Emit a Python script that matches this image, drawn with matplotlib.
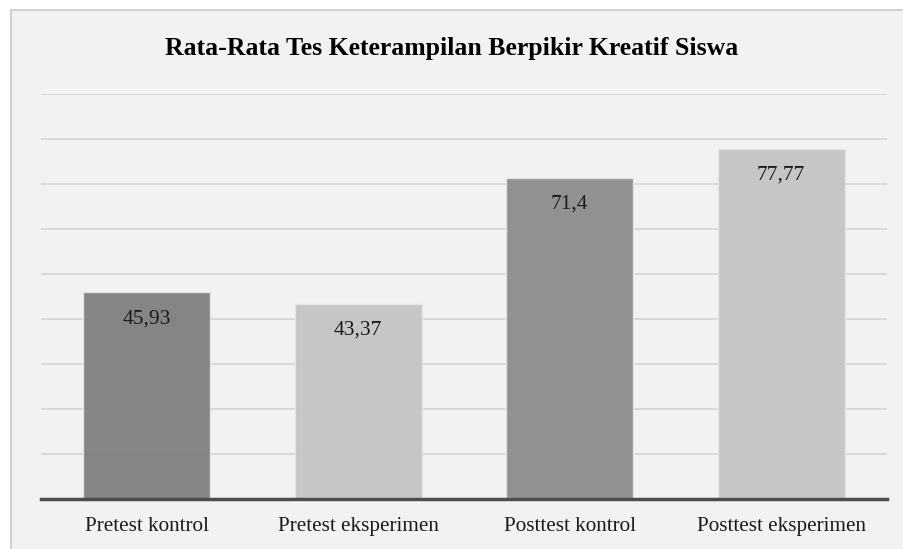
import matplotlib.pyplot as plt
from matplotlib.patches import Rectangle

categories = ["Pretest kontrol", "Pretest eksperimen", "Posttest kontrol", "Posttest eksperimen"]
values = [45.93, 43.37, 71.4, 77.77]
value_labels = ["45,93", "43,37", "71,4", "77,77"]
bar_colors = ["#7f7f7f", "#c4c4c4", "#8c8c8c", "#c4c4c4"]

plt.rcParams['font.family'] = ['Liberation Serif', 'DejaVu Serif']

W, H = 904, 549
fig = plt.figure(figsize=(W / 100, H / 100), dpi=100, facecolor="white")

# chart area background with border
fig.patches.append(Rectangle((11 / W, -0.01), 1.0, 1 - 10 / H + 0.01, transform=fig.transFigure,
                             facecolor="#f2f2f2", edgecolor="#c8c8c8", linewidth=1.2, zorder=-1))

ax = fig.add_axes([41 / W, 1 - 499 / H, (887 - 41) / W, (499 - 94) / H])
ax.set_facecolor("none")

x = range(len(categories))
bars = ax.bar(x, values, width=0.6, color=bar_colors, edgecolor="#e6e6e6", linewidth=1, alpha=0.95, zorder=2)

for xi, v, lab in zip(x, values, value_labels):
    ax.annotate(lab, (xi, v), xytext=(0, -19), textcoords="offset points",
                ha="center", va="center", fontsize=15.5, color="#1a1a1a", zorder=3)

ax.set_xlim(-0.5, len(categories) - 0.5)
ax.set_ylim(0, 90)
ax.set_yticks(range(10, 91, 10))
ax.yaxis.grid(True, color="#d4d4d4", linewidth=1.2, zorder=1)
ax.set_axisbelow(True)
ax.tick_params(axis="y", left=False, labelleft=False)
ax.set_xticks(list(x))
ax.set_xticklabels(categories, fontsize=15.2, color="#1a1a1a")
ax.tick_params(axis="x", length=0, pad=13)

for s in ["top", "right", "left"]:
    ax.spines[s].set_visible(False)
ax.spines["bottom"].set_color("#4d4d4d")
ax.spines["bottom"].set_linewidth(2.5)
ax.spines["bottom"].set_zorder(4)

fig.text(0.5, 1 - 48 / H, "Rata-Rata Tes Keterampilan Berpikir Kreatif Siswa",
         ha="center", va="center", fontsize=18.5, fontweight="bold", color="black")

fig.savefig("out.png", dpi=100, facecolor="white")
